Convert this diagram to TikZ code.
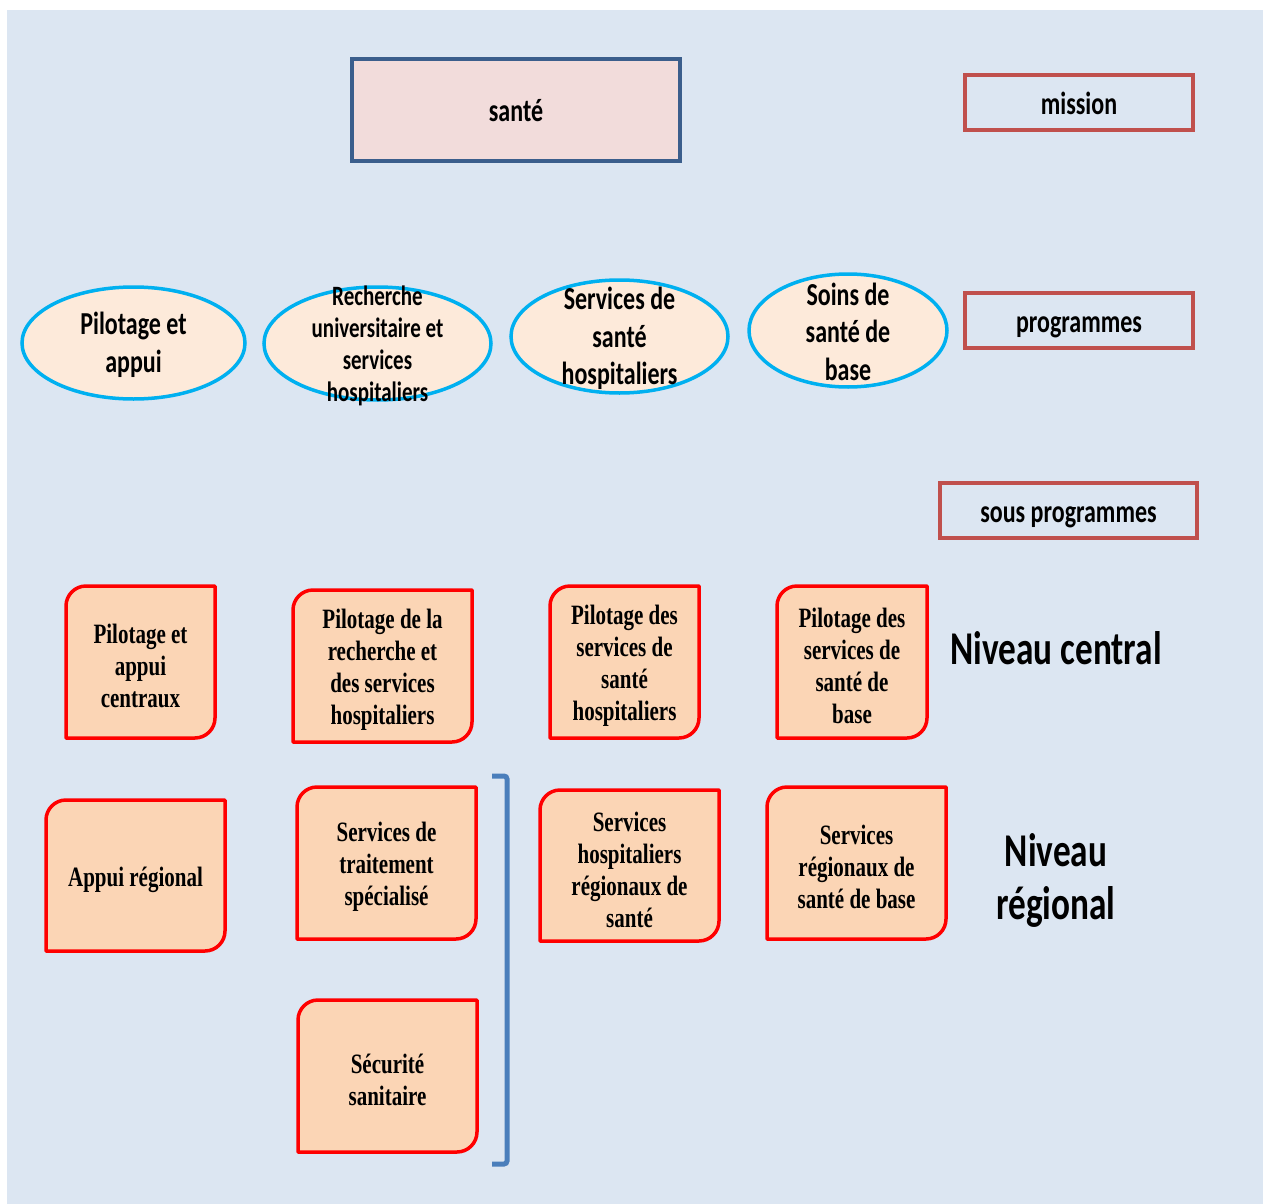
\documentclass[tikz,border=0pt]{standalone}
\usepackage{fontspec}
\usetikzlibrary{shapes.geometric}
\newfontfamily\calfont[FakeStretch=0.75]{Carlito}
\newfontfamily\tmsfont[FakeStretch=0.75]{Liberation Serif}
\definecolor{bgc}{HTML}{DCE6F2}
\definecolor{santefill}{HTML}{F2DCDB}
\definecolor{santeline}{HTML}{3B5E8C}
\definecolor{lblline}{HTML}{C0504D}
\definecolor{ellline}{HTML}{00B0F0}
\definecolor{ellfill}{HTML}{FDEADA}
\definecolor{boxfill}{HTML}{FBD5B5}
\definecolor{brkc}{HTML}{4A7EBB}
\tikzset{
  sbox/.style={draw=santeline, line width=3.5pt, fill=santefill, inner sep=0pt,
    text height=24pt, text depth=0pt,
    font={\calfont\bfseries\fontsize{32}{37}\selectfont}},
  lbl/.style={draw=lblline, line width=3.5pt, inner sep=0pt,
    text height=23pt, text depth=0pt,
    font={\calfont\bfseries\fontsize{32}{37}\selectfont}},
  ell/.style={ellipse, draw=ellline, line width=3.5pt, fill=ellfill, inner sep=0pt},
  elltext/.style={align=center, inner sep=0pt, yshift=-2pt, font={\calfont\bfseries\fontsize{32}{37.5}\selectfont}},
  elltextsmall/.style={align=center, inner sep=0pt, yshift=-2pt, font={\calfont\bfseries\fontsize{28}{32}\selectfont}},
  rshape/.style={draw=red, line width=3.5pt, fill=boxfill, line join=round},
  rtext/.style={align=center, inner sep=0pt, yshift=-4pt, font={\tmsfont\bfseries\fontsize{28}{32}\selectfont}},
  niv/.style={align=center, inner sep=0pt, font={\calfont\bfseries\fontsize{47}{53}\selectfont}},
  brk/.style={draw=brkc, line width=5pt, rounded corners=3pt},
}
\newcommand\rbox[6]{%
  \draw[rshape] (#2,#5) -- (#2,#3+20) .. controls (#2,#3+9) and (#2+9,#3) .. (#2+20,#3)
    -- (#4,#3) -- (#4,#5-20) .. controls (#4,#5-9) and (#4-9,#5) .. (#4-20,#5) -- cycle;
  \node[rtext] (#1) at ({(#2+#4)/2},{(#3+#5)/2}) {#6};%
}
\begin{document}
\begin{tikzpicture}[x=1pt,y=-1pt]
\useasboundingbox (0,0) rectangle (1263,1204);
\fill[bgc] (7,10) rectangle (1263,1204);

% mission
\node[sbox, minimum width=328pt, minimum height=102pt] (sante) at (516,110) {santé};

% labels
\node[lbl, minimum width=228pt, minimum height=55pt] (mission) at (1079,102.5) {mission};
\node[lbl, minimum width=228pt, minimum height=55pt] (programmes) at (1079,320.5) {programmes};
\node[lbl, minimum width=257pt, minimum height=55pt] (sousprog) at (1068.5,510.5) {sous programmes};

% programmes (ellipses)
\node[ell, minimum width=223pt, minimum height=112pt] (p1) at (133.5,343) {};
\node[elltext] (p1t) at (p1) {Pilotage et\\appui};
\node[ell, minimum width=227pt, minimum height=113pt] (p2) at (377.5,343.5) {};
\node[elltextsmall] (p2t) at (p2) {Recherche\\universitaire et\\services\\hospitaliers};
\node[ell, minimum width=217pt, minimum height=113pt] (p3) at (619.5,336.5) {};
\node[elltext] (p3t) at (p3) {Services de\\santé\\hospitaliers};
\node[ell, minimum width=198pt, minimum height=113pt] (p4) at (848,330.5) {};
\node[elltext, yshift=1pt] (p4t) at (p4) {Soins de\\santé de\\base};

% sous programmes - niveau central
\rbox{c1}{66}{586}{215}{738}{Pilotage et\\appui\\centraux}
\rbox{c2}{293}{590}{472}{742}{Pilotage de la\\recherche et\\des services\\hospitaliers}
\rbox{c3}{550}{586}{699}{738}{Pilotage des\\services de\\santé\\hospitaliers}
\rbox{c4}{777}{586}{927}{738}{Pilotage des\\services de\\santé de\\base}

% niveau regional
\rbox{r1}{46}{800}{225}{951}{Appui régional}
\rbox{r2}{297}{787}{476}{939}{Services de\\traitement\\spécialisé}
\rbox{r3}{540}{790}{719}{941}{Services\\hospitaliers\\régionaux de\\santé}
\rbox{r4}{767}{787}{946}{939}{Services\\régionaux de\\santé de base}
\rbox{r5}{298}{1000}{477}{1152}{Sécurité\\sanitaire}

% bracket
\coordinate (bt) at (492,776);
\coordinate (bb) at (492,1164);
\draw[brk] (bt) -- (507,776) -- (507,1164) -- (bb);

% level labels
\node[niv] (ncentral) at (1056,648) {Niveau central};
\node[niv, yshift=-2pt] (nregional) at (1056,878) {Niveau\\régional};
\end{tikzpicture}
\end{document}
